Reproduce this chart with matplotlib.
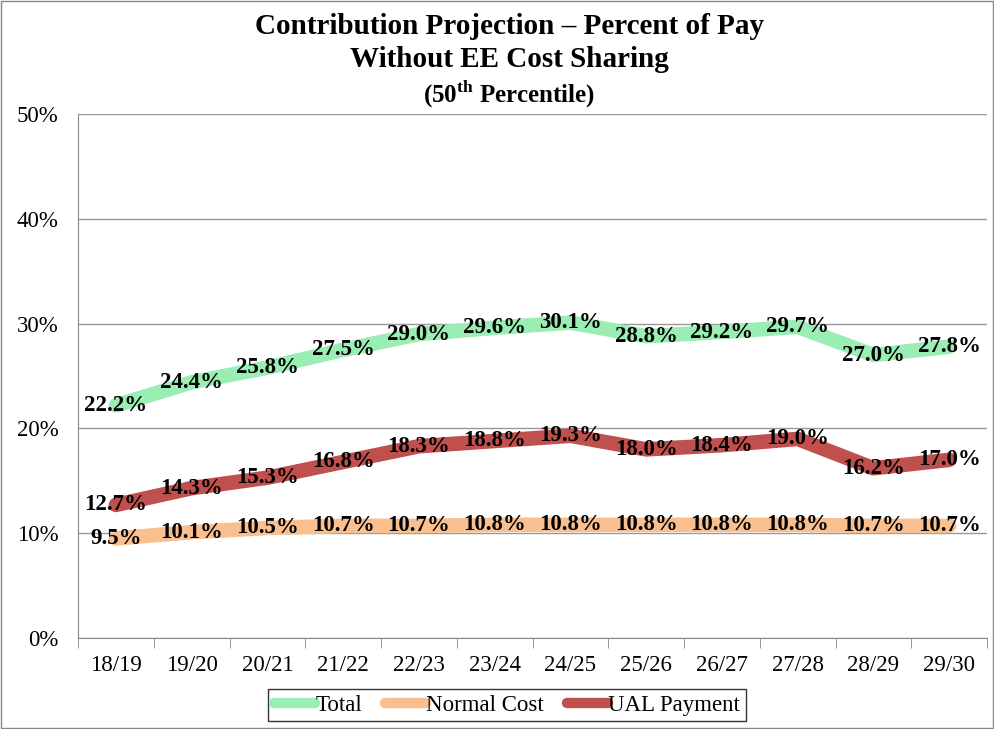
import matplotlib.pyplot as plt
from matplotlib.patches import Rectangle

years = ['18/19', '19/20', '20/21', '21/22', '22/23', '23/24',
         '24/25', '25/26', '26/27', '27/28', '28/29', '29/30']
total = [22.2, 24.4, 25.8, 27.5, 29.0, 29.6, 30.1, 28.8, 29.2, 29.7, 27.0, 27.8]
normal_cost = [9.5, 10.1, 10.5, 10.7, 10.7, 10.8, 10.8, 10.8, 10.8, 10.8, 10.7, 10.7]
ual_payment = [12.7, 14.3, 15.3, 16.8, 18.3, 18.8, 19.3, 18.0, 18.4, 19.0, 16.2, 17.0]

plt.rcParams['font.family'] = ['Liberation Serif', 'DejaVu Serif']
plt.rcParams['mathtext.fontset'] = 'custom'
plt.rcParams['mathtext.rm'] = 'Liberation Serif'
plt.rcParams['mathtext.bf'] = 'Liberation Serif:bold'

fig = plt.figure(figsize=(9.95, 7.29), dpi=100)
ax = fig.add_axes([0.0784, 0.1248, 0.9136, 0.7188])

x = list(range(len(years)))
series = [
    ('Total', total, '#9aeeb3'),
    ('Normal Cost', normal_cost, '#f9bf8f'),
    ('UAL Payment', ual_payment, '#c0504d'),
]
for name, vals, col in series:
    ax.plot(x, vals, color=col, lw=10.5, solid_capstyle='round',
            solid_joinstyle='round', label=name, zorder=2)
for name, vals, col in series:
    for xi, v in zip(x, vals):
        ax.text(xi, v, f'{v:.1f}%', ha='center', va='center',
                fontsize=16.5, fontweight='bold', color='black', zorder=3)

ax.set_xlim(-0.5, len(years) - 0.5)
ax.set_ylim(0, 50)
ax.set_yticks([0, 10, 20, 30, 40, 50])
ax.set_yticklabels([f'{t}%' for t in [0, 10, 20, 30, 40, 50]], fontsize=16.5)
ax.set_xticks(x)
ax.set_xticklabels(years, fontsize=16.5)
ax.set_xticks([i - 0.5 for i in range(len(years) + 1)], minor=True)
ax.tick_params(axis='x', which='major', length=0, pad=12)
ax.tick_params(axis='x', which='minor', length=7, color='#888888')
ax.tick_params(axis='y', length=0, pad=14)
ax.grid(axis='y', color='#999999', lw=1)
ax.set_axisbelow(True)
for s in ['top', 'right']:
    ax.spines[s].set_visible(False)
for s in ['left', 'bottom']:
    ax.spines[s].set_color('#888888')

fig.text(0.512, 0.963, 'Contribution Projection \u2013 Percent of Pay',
         ha='center', va='center', fontsize=21, fontweight='bold')
fig.text(0.512, 0.918, 'Without EE Cost Sharing',
         ha='center', va='center', fontsize=21, fontweight='bold')
fig.text(0.512, 0.871, r'(50$^{\mathbf{th}}$ Percentile)',
         ha='center', va='center', fontsize=18, fontweight='bold')

leg = ax.legend(loc='center', bbox_to_anchor=(0.472, -0.128), ncol=3,
                frameon=True, fancybox=False, fontsize=16.5, handlelength=1.8,
                handletextpad=0.0, columnspacing=1.0, borderpad=0.25,
                edgecolor='black')
leg.get_frame().set_linewidth(1)
for h in leg.get_lines():
    h.set_linewidth(7.5)

fig.patches.append(Rectangle((0.001, 0.001), 0.997, 0.997, transform=fig.transFigure,
                             fill=False, edgecolor='#888888', lw=1))

fig.savefig('out.png', dpi=100)
